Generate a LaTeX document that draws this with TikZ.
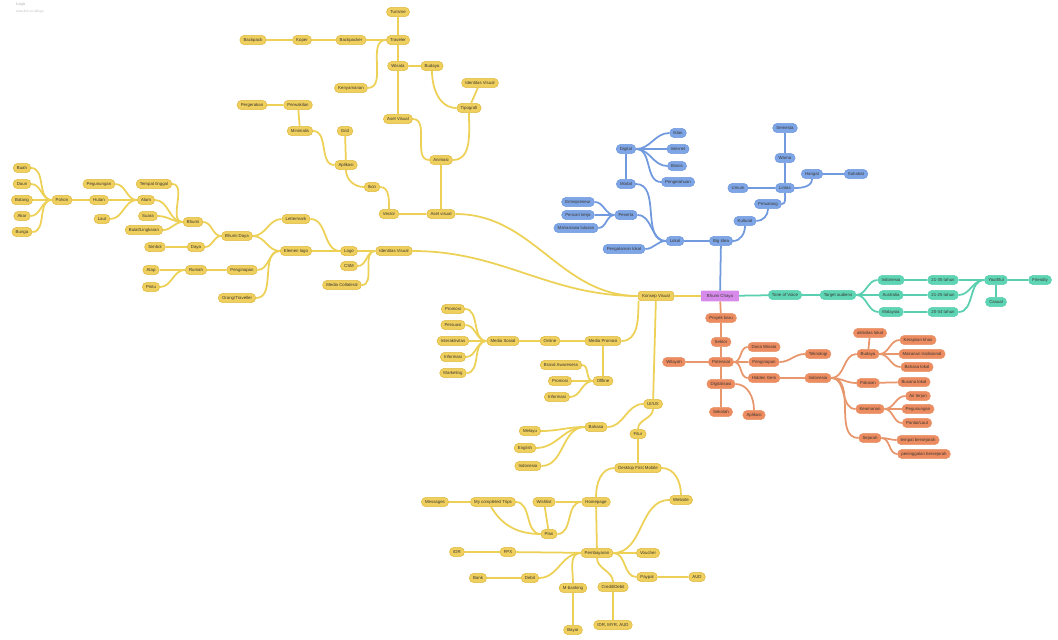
\documentclass[tikz,border=0pt]{standalone}
\usepackage{fontspec}
\setmainfont{Liberation Sans}
\definecolor{yfill}{HTML}{EFCF5E}
\definecolor{ydraw}{HTML}{E0BA40}
\definecolor{yline}{HTML}{ECD156}
\definecolor{bfill}{HTML}{7EA6E6}
\definecolor{bline}{HTML}{7099DE}
\definecolor{gfill}{HTML}{5ED6B5}
\definecolor{gline}{HTML}{5ACFAF}
\definecolor{ofill}{HTML}{EC8C60}
\definecolor{oline}{HTML}{E8966C}
\definecolor{mfill}{HTML}{D68BEB}
\definecolor{ink}{HTML}{3A3530}
\begin{document}
\begin{tikzpicture}[x=0.03cm,y=-0.03cm]

% definitions
\tikzstyle{box} = [rectangle, rounded corners=4pt, minimum height=8pt, inner xsep=3.2pt, inner ysep=0.5pt, text centered, text=ink, font=\fontsize{3.7}{4}\selectfont]
\tikzstyle{ynode} = [box, draw=ydraw, fill=yfill, line width=0.5pt]
\tikzstyle{bnode} = [box, draw=bline, fill=bfill, line width=0.5pt]
\tikzstyle{gnode} = [box, draw=gline, fill=gfill, line width=0.5pt]
\tikzstyle{onode} = [box, draw=oline, fill=ofill, line width=0.5pt]
\tikzstyle{center} = [box, rounded corners=0.5pt, minimum height=9pt, inner xsep=5pt, fill=mfill]
\tikzstyle{ylink} = [draw=yline, line width=1.5pt]
\tikzstyle{blink} = [draw=bline, line width=1.5pt]
\tikzstyle{glink} = [draw=gline, line width=1.5pt]
\tikzstyle{olink} = [draw=oline, line width=1.5pt]

\useasboundingbox (0,0) rectangle (1058,639);

% title
\node (h0) [anchor=west, text=black!30, font=\fontsize{3.5}{4}\selectfont] at (12,5) {Logo};
\node (h1) [anchor=west, text=black!25, font=\fontsize{2.8}{3}\selectfont] at (12,12) {www.link.co.id/logo};

% centre
\node (ks) [ynode, rounded corners=1.5pt] at (656,296) {Konsep Visual};
\node (bc) [center] at (720,296) {Bhumi Chaya};

% top branch
\node (t1) [ynode] at (398,12) {Turisme};
\node (t2) [ynode] at (253,40) {Backpack};
\node (t3) [ynode] at (302,40) {Koper};
\node (t4) [ynode] at (351,40) {Backpacker};
\node (t5) [ynode] at (398,40) {Traveler};
\node (t6) [ynode] at (398,66) {Wisata};
\node (t7) [ynode] at (432,66) {Budaya};
\node (t8) [ynode] at (480,83) {Identitas Visual};
\node (t9) [ynode] at (351,88) {Kenyamanan};
\node (t10) [ynode] at (469,108) {Tipografi};
\node (t11) [ynode] at (398,119) {Aset Visual};
\node (t12) [ynode] at (252,105) {Pergerakan};
\node (t13) [ynode] at (298,105) {Perwakilan};
\node (t14) [ynode] at (300,131) {Minimalis};
\node (t15) [ynode] at (345,131) {Grid};
\node (t16) [ynode] at (346,165) {Aplikasi};
\node (t17) [ynode] at (372,187) {Ikon};
\node (t18) [ynode] at (389,214) {Vector};
\node (t19) [ynode] at (441,214) {Aset visual};
\node (t20) [ynode] at (441,160) {Animasi};

% left branch
\node (a1) [ynode] at (22,168) {Buah};
\node (a2) [ynode] at (22,184) {Daun};
\node (a3) [ynode] at (22,200) {Batang};
\node (a4) [ynode] at (22,216) {Akar};
\node (a5) [ynode] at (22,232) {Bunga};
\node (a6) [ynode] at (62,200) {Pohon};
\node (a7) [ynode] at (99,184) {Pegunungan};
\node (a8) [ynode] at (99,200) {Hutan};
\node (a9) [ynode] at (102,219) {Laut};
\node (a10) [ynode] at (154,184) {Tempat tinggal};
\node (a11) [ynode] at (146,200) {Alam};
\node (a12) [ynode] at (148,216) {Suara};
\node (a13) [ynode] at (144,230) {Bulat/Lingkaran};
\node (a14) [ynode] at (193,222) {Bhumi};
\node (a15) [ynode] at (155,247) {Simbol};
\node (a16) [ynode] at (196,247) {Daya};
\node (a17) [ynode] at (237,236) {Bhumi Daya};
\node (a18) [ynode] at (151,270) {Atap};
\node (a19) [ynode] at (151,287) {Pintu};
\node (a20) [ynode] at (196,270) {Rumah};
\node (a21) [ynode] at (242,270) {Penginapan};
\node (a22) [ynode] at (237,298) {Orang/Traveller};
\node (a23) [ynode] at (296,219) {Lettermark};
\node (a24) [ynode] at (296,251) {Elemen logo};
\node (a25) [ynode] at (349,251) {Logo};
\node (a26) [ynode] at (349,266) {CSM};
\node (a27) [ynode] at (342,285) {Media Collateral};
\node (a28) [ynode] at (394,251) {Identitas Visual};

% media branch
\node (m1) [ynode] at (453,309) {Promosi};
\node (m2) [ynode] at (453,325) {Persuasi};
\node (m3) [ynode] at (453,341) {Interaktivitas};
\node (m4) [ynode] at (453,357) {Informasi};
\node (m5) [ynode] at (453,373) {Marketing};
\node (m6) [ynode] at (503,341) {Media Sosial};
\node (m7) [ynode] at (550,341) {Online};
\node (m8) [ynode] at (603,341) {Media Promosi};
\node (m9) [ynode] at (561,365) {Brand Awareness};
\node (m10) [ynode] at (560,381) {Promosi};
\node (m11) [ynode] at (557,397) {Informasi};
\node (m12) [ynode] at (603,381) {Offline};

% bottom branch
\node (u1) [ynode] at (653,404) {UI/UX};
\node (u2) [ynode] at (596,427) {Bahasa};
\node (u3) [ynode] at (530,431) {Melayu};
\node (u4) [ynode] at (525,448) {English};
\node (u5) [ynode] at (528,466) {Indonesia};
\node (u6) [ynode] at (638,434) {Fitur};
\node (u7) [ynode] at (638,468) {Desktop First Mobile};
\node (u8) [ynode] at (681,500) {Website};
\node (u9) [ynode] at (596,502) {Homepage};
\node (u10) [ynode] at (544,502) {Wishlist};
\node (u11) [ynode] at (493,502) {My completed Trips};
\node (u12) [ynode] at (435,502) {Messages};
\node (u13) [ynode] at (549,534) {Plan};
\node (u14) [ynode] at (597,553) {Pembayaran};
\node (u15) [ynode] at (648,553) {Voucher};
\node (u16) [ynode] at (647,577) {Paypal};
\node (u17) [ynode] at (697,577) {AUD};
\node (u18) [ynode] at (457,552) {IDR};
\node (u19) [ynode] at (508,552) {FPX};
\node (u20) [ynode] at (478,578) {Bank};
\node (u21) [ynode] at (530,578) {Debit};
\node (u22) [ynode] at (573,588) {M-banking};
\node (u23) [ynode] at (613,587) {Credit/Debit};
\node (u24) [ynode] at (573,630) {Bayar};
\node (u25) [ynode] at (613,625) {IDR, MYR, AUD};

% blue branch
\node (b1) [bnode] at (626,149) {Digital};
\node (b2) [bnode] at (678,133) {Iklan};
\node (b3) [bnode] at (678,149) {Internet};
\node (b4) [bnode] at (677,166) {Bisnis};
\node (b5) [bnode] at (678,182) {Pengetahuan};
\node (b6) [bnode] at (626,184) {Modal};
\node (b7) [bnode] at (578,202) {Entrepreneur};
\node (b8) [bnode] at (578,215) {Pencari kerja};
\node (b9) [bnode] at (576,228) {Mahasiswa lulusan};
\node (b10) [bnode] at (626,215) {Peserta};
\node (b11) [bnode] at (624,249) {Pengalaman lokal};
\node (b12) [bnode] at (675,241) {Lokal};
\node (b13) [bnode] at (721,241) {Big Idea};
\node (b14) [bnode] at (745,221) {Kultural};
\node (b15) [bnode] at (768,204) {Petualang};
\node (b16) [bnode] at (785,188) {Lintas};
\node (b17) [bnode] at (738,188) {Umum};
\node (b18) [bnode] at (785,158) {Warna};
\node (b19) [bnode] at (785,128) {Semesta};
\node (b20) [bnode] at (812,174) {Hangat};
\node (b21) [bnode] at (856,174) {Sahabat};

% green branch
\node (g1) [gnode] at (785,295) {Tone of Voice};
\node (g2) [gnode] at (838,295) {Target audiens};
\node (g3) [gnode] at (891,280) {Indonesia};
\node (g4) [gnode] at (891,295) {Australia};
\node (g5) [gnode] at (891,312) {Malaysia};
\node (g6) [gnode] at (943,280) {21-35 tahun};
\node (g7) [gnode] at (943,295) {21-25 tahun};
\node (g8) [gnode] at (943,312) {20-34 tahun};
\node (g9) [gnode] at (996,280) {Youthful};
\node (g10) [gnode] at (996,302) {Casual};
\node (g11) [gnode] at (1040,280) {Friendly};

% orange branch
\node (o1) [onode] at (721,318) {Proyek baru};
\node (o2) [onode] at (721,342) {Sektor};
\node (o3) [onode] at (721,362) {Potensial};
\node (o4) [onode] at (674,362) {Wilayah};
\node (o5) [onode] at (721,384) {Digitalisasi};
\node (o6) [onode] at (721,412) {Sekolah};
\node (o7) [onode] at (754,415) {Aplikasi};
\node (o8) [onode] at (764,347) {Dana Wisata};
\node (o9) [onode] at (764,362) {Penginapan};
\node (o10) [onode] at (764,378) {Hidden Gem};
\node (o11) [onode] at (818,354) {Teknologi};
\node (o12) [onode] at (818,378) {Indonesia};
\node (o13) [onode] at (870,333) {aktivitas lokal};
\node (o14) [onode] at (868,354) {Budaya};
\node (o15) [onode] at (868,383) {Pakaian};
\node (o16) [onode] at (870,409) {Keamanan};
\node (o17) [onode] at (870,438) {Sejarah};
\node (o18) [onode] at (918,340) {Kerajinan khas};
\node (o19) [onode] at (922,354) {Makanan tradisional};
\node (o20) [onode] at (917,367) {Bahasa lokal};
\node (o21) [onode] at (914,382) {Busana lokal};
\node (o22) [onode] at (918,396) {Air terjun};
\node (o23) [onode] at (918,409) {Pegunungan};
\node (o24) [onode] at (917,423) {Pantai/Laut};
\node (o25) [onode] at (918,440) {tempat bersejarah};
\node (o26) [onode] at (924,454) {peninggalan bersejarah};

% the links
\draw [ylink] (ks) -- (bc);
\draw [blink] (b13) -- (bc);
\draw [glink] (bc) -- (g1);
\draw [olink] (bc) -- (o1);

\draw [ylink] (t1) -- (t5);
\draw [ylink] (t2) -- (t3);
\draw [ylink] (t3) -- (t4);
\draw [ylink] (t4) -- (t5);
\draw [ylink] (t9.east) to[out=0,in=180] (t5.west);
\draw [ylink] (t5) -- (t6);
\draw [ylink] (t6) -- (t7);
\draw [ylink] (t7.south) to[out=-90,in=180] (t10.west);
\draw [ylink] (t8) -- (t10);
\draw [ylink] (t6) -- (t11);
\draw [ylink] (t10.south) to[out=-90,in=0] (t20.east);
\draw [ylink] (t11.east) to[out=0,in=180] (t20.west);
\draw [ylink] (t20) -- (t19);
\draw [ylink] (t12) -- (t13);
\draw [ylink] (t13) -- (t14);
\draw [ylink] (t14.east) to[out=0,in=180] (t16.west);
\draw [ylink] (t15) -- (t16);
\draw [ylink] (t16.south) to[out=-90,in=180] (t17.west);
\draw [ylink] (t17.east) to[out=0,in=90] (t18.north);
\draw [ylink] (t18) -- (t19);
\draw [ylink] (t19.east) to[out=0,in=180] (ks.west);

\draw [ylink] (a1.east) to[out=0,in=180] (a6.west);
\draw [ylink] (a2.east) to[out=0,in=180] (a6.west);
\draw [ylink] (a3.east) to[out=0,in=180] (a6.west);
\draw [ylink] (a4.east) to[out=0,in=180] (a6.west);
\draw [ylink] (a5.east) to[out=0,in=180] (a6.west);
\draw [ylink] (a6) -- (a8);
\draw [ylink] (a7.east) to[out=0,in=180] (a11.west);
\draw [ylink] (a8) -- (a11);
\draw [ylink] (a9.east) to[out=0,in=180] (a11.west);
\draw [ylink] (a10.east) to[out=0,in=180] (a14.west);
\draw [ylink] (a11.east) to[out=0,in=180] (a14.west);
\draw [ylink] (a12.east) to[out=0,in=180] (a14.west);
\draw [ylink] (a13.east) to[out=0,in=180] (a14.west);
\draw [ylink] (a15) -- (a16);
\draw [ylink] (a14.east) to[out=0,in=180] (a17.west);
\draw [ylink] (a16.east) to[out=0,in=180] (a17.west);
\draw [ylink] (a18.east) to[out=0,in=180] (a20.west);
\draw [ylink] (a19.east) to[out=0,in=180] (a20.west);
\draw [ylink] (a20) -- (a21);
\draw [ylink] (a17.east) to[out=0,in=180] (a23.west);
\draw [ylink] (a17.east) to[out=0,in=180] (a24.west);
\draw [ylink] (a21.east) to[out=0,in=180] (a24.west);
\draw [ylink] (a22.east) to[out=0,in=180] (a24.west);
\draw [ylink] (a23.east) to[out=0,in=180] (a25.west);
\draw [ylink] (a24) -- (a25);
\draw [ylink] (a25) -- (a28);
\draw [ylink] (a26.east) to[out=0,in=180] (a28.west);
\draw [ylink] (a27.east) to[out=0,in=180] (a28.west);
\draw [ylink] (a28.east) to[out=0,in=180] (ks.west);

\draw [ylink] (m1.east) to[out=0,in=180] (m6.west);
\draw [ylink] (m2.east) to[out=0,in=180] (m6.west);
\draw [ylink] (m3) -- (m6);
\draw [ylink] (m4.east) to[out=0,in=180] (m6.west);
\draw [ylink] (m5.east) to[out=0,in=180] (m6.west);
\draw [ylink] (m6) -- (m7);
\draw [ylink] (m7) -- (m8);
\draw [ylink] (m8.east) to[out=0,in=-90] ([xshift=-15pt]ks.south);
\draw [ylink] (m8) -- (m12);
\draw [ylink] (m9.east) to[out=0,in=180] (m12.west);
\draw [ylink] (m10) -- (m12);
\draw [ylink] (m11.east) to[out=0,in=180] (m12.west);

\draw [ylink] (ks) -- (u1);
\draw [ylink] (u1.south) to[out=-90,in=90] (u6.north);
\draw [ylink] (u2.east) to[out=0,in=180] (u1.west);
\draw [ylink] (u3.east) to[out=0,in=180] (u2.west);
\draw [ylink] (u4.east) to[out=0,in=180] (u2.west);
\draw [ylink] (u5.east) to[out=0,in=180] (u2.west);
\draw [ylink] (u6) -- (u7);
\draw [ylink] (u7.west) to[out=180,in=90] (u9.north);
\draw [ylink] (u7.east) to[out=0,in=90] (u8.north);
\draw [ylink] (u12) -- (u11);
\draw [ylink] (u11.east) to[out=0,in=180] (u13.west);
\draw [ylink] (u11.250) to[out=-60,in=180] (u13.west);
\draw [ylink] (u10) -- (u13);
\draw [ylink] (u10) -- (u9);
\draw [ylink] (u13.east) to[out=0,in=180] (u9.west);
\draw [ylink] (u9) -- (u14);
\draw [ylink] (u18) -- (u19);
\draw [ylink] (u19) -- (u14);
\draw [ylink] (u20) -- (u21);
\draw [ylink] (u21.east) to[out=0,in=180] (u14.west);
\draw [ylink] (u22.north) to[out=90,in=180] (u14.west);
\draw [ylink] (u22) -- (u24);
\draw [ylink] (u14.south) to[out=-90,in=90] (u23.north);
\draw [ylink] (u23) -- (u25);
\draw [ylink] (u14) -- (u15);
\draw [ylink] (u14.east) to[out=0,in=180] (u16.west);
\draw [ylink] (u14.east) to[out=0,in=180] (u8.west);
\draw [ylink] (u16) -- (u17);

\draw [blink] (b1.east) to[out=0,in=180] (b2.west);
\draw [blink] (b1) -- (b3);
\draw [blink] (b1.east) to[out=0,in=180] (b4.west);
\draw [blink] (b1.east) to[out=0,in=180] (b5.west);
\draw [blink] (b1) -- (b6);
\draw [blink] (b6.east) to[out=0,in=180] (b12.west);
\draw [blink] (b7.east) to[out=0,in=180] (b10.west);
\draw [blink] (b8) -- (b10);
\draw [blink] (b9.east) to[out=0,in=180] (b10.west);
\draw [blink] (b10.east) to[out=0,in=180] (b12.west);
\draw [blink] (b11.east) to[out=0,in=180] (b12.west);
\draw [blink] (b12) -- (b13);
\draw [blink] (b13.east) to[out=0,in=-90] (b14.south);
\draw [blink] (b14.east) to[out=0,in=-90] (b15.south);
\draw [blink] (b15.east) to[out=0,in=-90] (b16.south);
\draw [blink] (b17) -- (b16);
\draw [blink] (b16) -- (b18);
\draw [blink] (b18) -- (b19);
\draw [blink] (b16.east) to[out=0,in=-90] (b20.south);
\draw [blink] (b20) -- (b21);

\draw [glink] (g1) -- (g2);
\draw [glink] (g2.east) to[out=0,in=180] (g3.west);
\draw [glink] (g2) -- (g4);
\draw [glink] (g2.east) to[out=0,in=180] (g5.west);
\draw [glink] (g3) -- (g6);
\draw [glink] (g4) -- (g7);
\draw [glink] (g5) -- (g8);
\draw [glink] (g6) -- (g9);
\draw [glink] (g7.east) to[out=0,in=180] (g9.west);
\draw [glink] (g8.east) to[out=0,in=180] (g9.west);
\draw [glink] (g9) -- (g11);
\draw [glink] (g9) -- (g10);

\draw [olink] (o1) -- (o2);
\draw [olink] (o2) -- (o3);
\draw [olink] (o4) -- (o3);
\draw [olink] (o3) -- (o5);
\draw [olink] (o5) -- (o6);
\draw [olink] (o5.east) to[out=0,in=90] (o7.north);
\draw [olink] (o3.east) to[out=0,in=180] (o8.west);
\draw [olink] (o3) -- (o9);
\draw [olink] (o3.east) to[out=0,in=180] (o10.west);
\draw [olink] (o9.east) to[out=0,in=180] (o11.west);
\draw [olink] (o10) -- (o12);
\draw [olink] (o12.east) to[out=0,in=180] (o14.west);
\draw [olink] (o12.east) to[out=0,in=180] (o15.west);
\draw [olink] (o12.east) to[out=0,in=180] (o16.west);
\draw [olink] (o12.east) to[out=0,in=180] (o17.west);
\draw [olink] (o13) -- (o14);
\draw [olink] (o14.east) to[out=0,in=180] (o18.west);
\draw [olink] (o14) -- (o19);
\draw [olink] (o14.east) to[out=0,in=180] (o20.west);
\draw [olink] (o15) -- (o21);
\draw [olink] (o16.east) to[out=0,in=180] (o22.west);
\draw [olink] (o16) -- (o23);
\draw [olink] (o16.east) to[out=0,in=180] (o24.west);
\draw [olink] (o17.east) to[out=0,in=180] (o25.west);
\draw [olink] (o17.east) to[out=0,in=180] (o26.west);

\end{tikzpicture}
\end{document}
